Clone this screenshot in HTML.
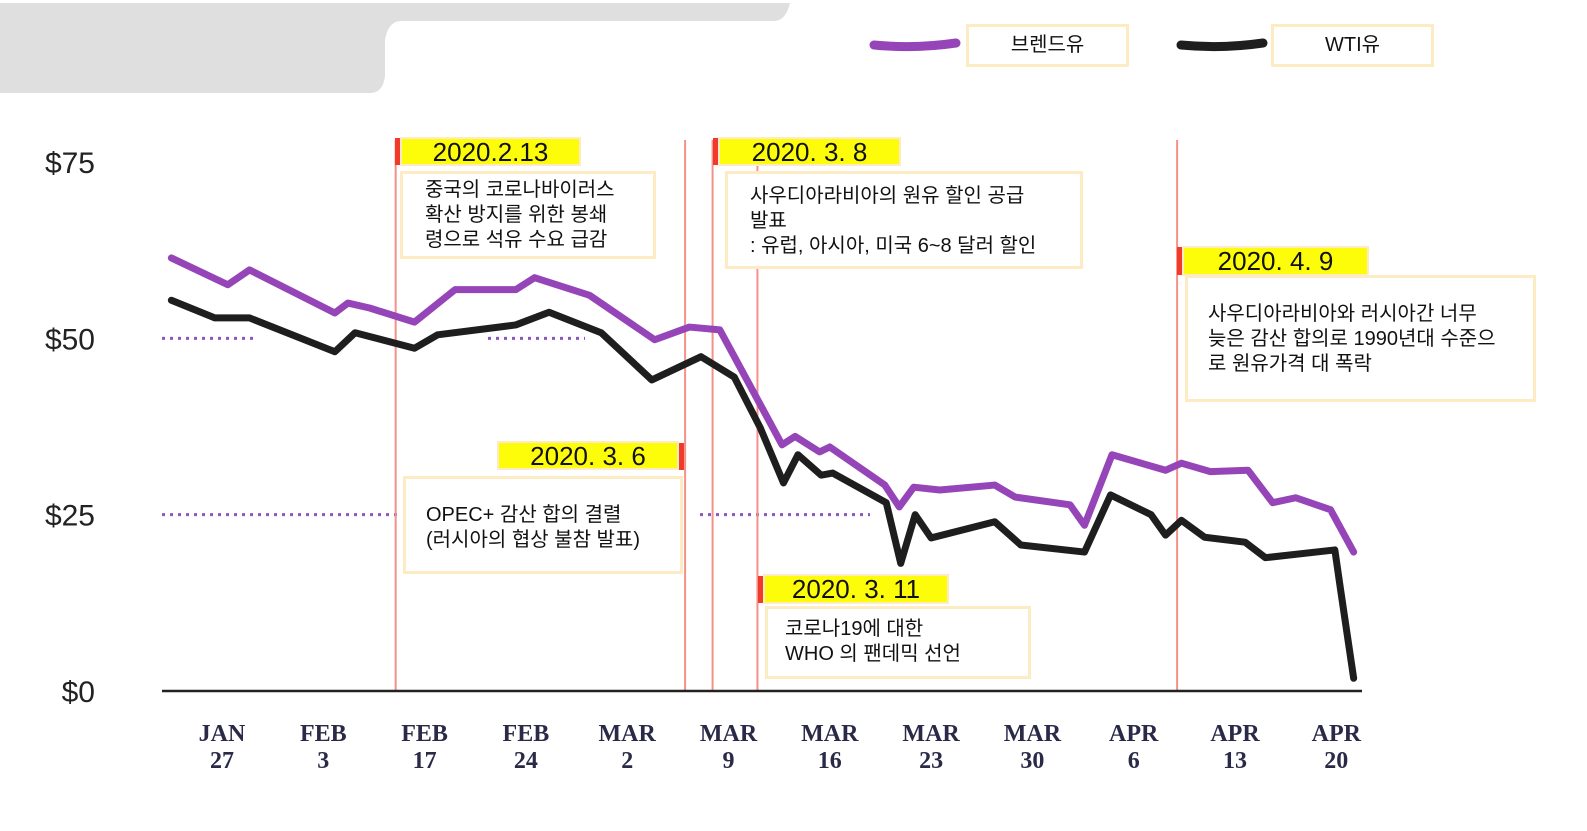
<!DOCTYPE html>
<html><head><meta charset="utf-8">
<style>
body{margin:0;width:1587px;height:831px;background:#fff;overflow:hidden;font-family:"Liberation Sans","Noto Sans CJK KR",sans-serif;}
svg{position:absolute;left:0;top:0}
.box{position:absolute;border:3px solid #fdebc4;background:#fff;box-sizing:border-box;color:#111;font-size:20px;line-height:25px}
.tag{position:absolute;background:#fdfd0a;border:2px solid #fdebc4;box-sizing:border-box;font-size:26px;color:#111;text-align:center;line-height:26px}
.rb{position:absolute;background:#f03a2a;width:5px}
</style></head><body>
<svg width="1587" height="831" id="chart">
  <path d="M0 3 H790 Q786 20 775 21 H400 Q388 22 385 40 V76 Q383 93 370 93 H0 Z" fill="#dfdfdf"/>
  <g id="grid"></g>
  <g id="vlines"></g>
  <line x1="162" y1="691" x2="1362" y2="691" stroke="#222" stroke-width="2.5"/>
  <g id="series"></g>
  <g id="labels"></g>
  <path d="M874 45 Q915 49 956 43" stroke="#9645b8" stroke-width="9" stroke-linecap="round" fill="none"/>
  <path d="M1181 45 Q1222 49 1263 43" stroke="#1e1e1e" stroke-width="9" stroke-linecap="round" fill="none"/>
</svg>
<div class="box" style="left:966px;top:24px;width:163px;height:43px;text-align:center;line-height:37px">브렌드유</div>
<div class="box" style="left:1271px;top:24px;width:163px;height:43px;text-align:center;line-height:37px">WTI유</div>

<div class="rb" style="left:395px;top:138px;height:27px"></div>
<div class="tag" style="left:400px;top:137px;width:181px;height:29px">2020.2.13</div>
<div class="box" style="left:400px;top:171px;width:256px;height:88px;padding:4px 0 0 22px">중국의 코로나바이러스<br>확산 방지를 위한 봉쇄<br>령으로 석유 수요 급감</div>

<div class="rb" style="left:713px;top:138px;height:27px"></div>
<div class="tag" style="left:718px;top:137px;width:183px;height:29px">2020. 3. 8</div>
<div class="box" style="left:725px;top:171px;width:358px;height:98px;padding:10px 0 0 22px">사우디아라비아의 원유 할인 공급<br>발표<br>: 유럽, 아시아, 미국 6~8 달러 할인</div>

<div class="rb" style="left:1177px;top:247px;height:28px"></div>
<div class="tag" style="left:1182px;top:246px;width:187px;height:30px">2020. 4. 9</div>
<div class="box" style="left:1185px;top:275px;width:351px;height:127px;padding:24px 0 0 20px">사우디아라비아와 러시아간 너무<br>늦은 감산 합의로 1990년대 수준으<br>로 원유가격 대 폭락</div>

<div class="rb" style="left:679px;top:443px;height:27px"></div>
<div class="tag" style="left:497px;top:441px;width:182px;height:29px">2020. 3. 6</div>
<div class="box" style="left:403px;top:476px;width:280px;height:98px;padding:24px 0 0 20px">OPEC+ 감산 합의 결렬<br>(러시아의 협상 불참 발표)</div>

<div class="rb" style="left:758px;top:576px;height:27px"></div>
<div class="tag" style="left:763px;top:574px;width:186px;height:30px">2020. 3. 11</div>
<div class="box" style="left:765px;top:606px;width:266px;height:73px;padding:8px 0 0 17px">코로나19에 대한<br>WHO 의 팬데믹 선언</div>

<script>
const yTicks=[0,25,50,75];
const xLabels=[["JAN","27"],["FEB","3"],["FEB","17"],["FEB","24"],["MAR","2"],["MAR","9"],["MAR","16"],["MAR","23"],["MAR","30"],["APR","6"],["APR","13"],["APR","20"]];
const brentDays=[-3.5,0.4,1.9,7.8,8.7,10.2,13.3,16.1,20.3,21.6,25.4,29.9,32.3,34.4,37.2,38.7,39.6,41.3,42.0,45.8,46.8,47.8,49.6,53.4,54.8,58.6,59.6,61.5,65.2,66.3,68.3,70.9,72.6,74.2,76.6,78.2];
const brentVals=[61.4,57.6,59.7,53.6,55.0,54.3,52.3,56.9,56.9,58.6,56.1,49.8,51.6,51.2,40.6,34.9,36.1,33.9,34.6,29.2,26.1,28.9,28.5,29.2,27.5,26.4,23.5,33.5,31.3,32.3,31.1,31.3,26.7,27.4,25.7,19.7];
const wtiDays=[-3.5,-0.5,1.9,7.8,9.2,13.3,14.9,20.3,22.6,26.2,29.7,33.1,35.4,37.2,38.8,39.8,41.4,42.2,45.9,46.9,47.9,49.0,53.4,55.2,59.6,61.4,64.2,65.2,66.3,67.9,70.7,72.1,76.9,77.3,78.2];
const wtiVals=[55.4,52.9,52.9,48.1,50.8,48.6,50.5,51.9,53.7,50.8,44.1,47.4,44.5,37.3,29.5,33.5,30.6,30.9,26.7,18.1,25.0,21.7,24.0,20.7,19.7,27.8,25.0,22.1,24.2,21.8,21.1,18.9,20.0,14.3,1.8];
const eventDays=[12.0,32.0,33.9,37.0,66.0];
const y=v=>691-v*7.053;
const x=d=>222+d*101.3/7;
const NS="http://www.w3.org/2000/svg";
function mk(t,a,p){const e=document.createElementNS(NS,t);for(const k in a)e.setAttribute(k,a[k]);p.appendChild(e);return e;}
const grid=document.getElementById('grid'),lab=document.getElementById('labels'),ser=document.getElementById('series'),vl=document.getElementById('vlines');
[[50,162,258],[50,488,585],[25,162,400],[25,700,870]].forEach(g=>{
  const l=mk('line',{x1:g[1],x2:g[2],y1:y(g[0]),y2:y(g[0]),stroke:'#8a55c0','stroke-width':3,'stroke-dasharray':'3 5'},grid);
  
  
});
yTicks.forEach(v=>{
  const t=mk('text',{x:95,y:y(v)+11,'text-anchor':'end','font-size':30,fill:'#222','font-family':'Liberation Sans, sans-serif'},lab);
  t.textContent='$'+v;
  
  
});
xLabels.forEach((l,i)=>{
  const cx=222+i*101.3;
  const t=mk('text',{x:cx,'text-anchor':'middle','font-size':24,'font-weight':'bold',fill:'#2a2a48','font-family':'Liberation Serif, serif'},lab);
  
  
  mk('tspan',{x:cx,y:741},t).textContent=l[0];
  mk('tspan',{x:cx,y:768},t).textContent=l[1];
});
eventDays.forEach(d=>{
  const l=mk('line',{x1:x(d),x2:x(d),y1:140,y2:691,stroke:'#f4928a','stroke-width':2},vl);
  
  
});
function line(days,vals,color,w,name){
  const p=mk('polyline',{points:days.map((d,i)=>x(d)+','+y(vals[i])).join(' '),fill:'none',stroke:color,'stroke-width':w,'stroke-linejoin':'round','stroke-linecap':'round'},ser);
  
  
}
line(wtiDays,wtiVals,'#1e1e1e',7,'wti-line');
line(brentDays,brentVals,'#9645b8',7,'brent-line');
</script>
</body></html>
